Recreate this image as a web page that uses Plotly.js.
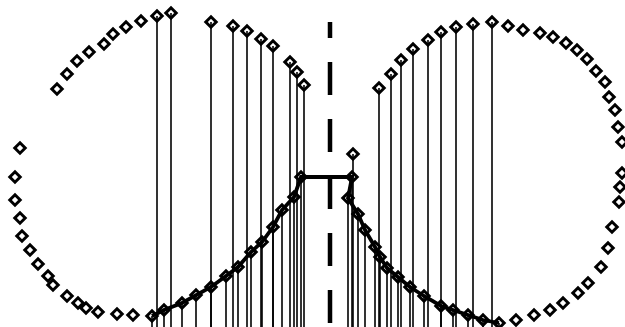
<!DOCTYPE html>
<html>
<head>
<meta charset="utf-8">
<script src="https://cdn.plot.ly/plotly-3.0.1.min.js"></script>
<style>html,body{margin:0;padding:0;background:#fff;}#chart{width:625px;height:327px;}</style>
</head>
<body>
<div id="chart"></div>
<script>
// ---- data (y grows downward) ----
const stemBase = 327;

const leftCircleX = [141,126,113,104,89,77,67,57,20,15,15,20,22,30,38,48,53,67,78,86,98,117,133];
const leftCircleY = [21,27,34,44,52,61,74,89,148,177,200,218,236,250,264,276,285,296,303,308,312,314,315];

const leftStemTopX = [157,171,211,233,247,261,273,290,297,304];
const leftStemTopY = [16,13,22,26,31,39,46,62,72,85];

const curveX = [152,164,182,196,211,226,238,251,262,273,282,294,301,352,348,358,365,375,380,387,398,410,424,441,453,468,483,499];
const curveY = [316,310,303,295,287,276,267,252,242,227,210,197,177,177,198,214,230,247,257,268,277,287,296,306,310,315,320,323];

const rightStemTopX = [353,379,391,401,413,428,441,456,473,492];
const rightStemTopY = [154,88,74,60,49,40,32,27,24,22];

const rightCircleX = [508,523,540,553,566,577,587,596,605,609,615,618,622,622,620,619,612,608,601,588,578,563,550,534,516];
const rightCircleY = [26,30,33,37,43,50,59,71,82,97,110,127,142,173,187,202,227,248,267,283,293,303,310,315,320];

const axisLineX = [330, 330];
const axisLineY = [323, 22];

// ---- build stems from data ----
function stems(xs, ys) {
  const sx = [], sy = [];
  xs.forEach((x, i) => { sx.push(x, x, null); sy.push(ys[i], stemBase, null); });
  return {x: sx, y: sy};
}
const allStemX = leftStemTopX.concat(curveX, rightStemTopX);
const allStemY = leftStemTopY.concat(curveY, rightStemTopY);
const st = stems(allStemX, allStemY);

const mk = {symbol: 'diamond-open', size: 8, color: '#000', line: {width: 3, color: '#000'}};

const traces = [
  {type: 'scatter', mode: 'lines', x: st.x, y: st.y, line: {color: '#000', width: 1.6}, hoverinfo: 'skip'},
  {type: 'scatter', mode: 'lines', x: axisLineX, y: axisLineY, line: {color: '#000', width: 4.5, dash: '33px,24px'}},
  {type: 'scatter', mode: 'lines+markers', x: curveX, y: curveY, line: {color: '#000', width: 3.8}, marker: mk},
  {type: 'scatter', mode: 'markers', x: leftCircleX, y: leftCircleY, marker: mk},
  {type: 'scatter', mode: 'markers', x: leftStemTopX, y: leftStemTopY, marker: mk},
  {type: 'scatter', mode: 'markers', x: rightStemTopX, y: rightStemTopY, marker: mk},
  {type: 'scatter', mode: 'markers', x: rightCircleX, y: rightCircleY, marker: mk}
];

const layout = {
  width: 625, height: 327,
  margin: {l: 0, r: 0, t: 0, b: 0},
  paper_bgcolor: '#fff', plot_bgcolor: '#fff',
  showlegend: false,
  xaxis: {range: [0, 625], visible: false, fixedrange: true},
  yaxis: {range: [327, 0], visible: false, fixedrange: true}
};

Plotly.newPlot('chart', traces, layout, {staticPlot: true, displayModeBar: false});
</script>
</body>
</html>
